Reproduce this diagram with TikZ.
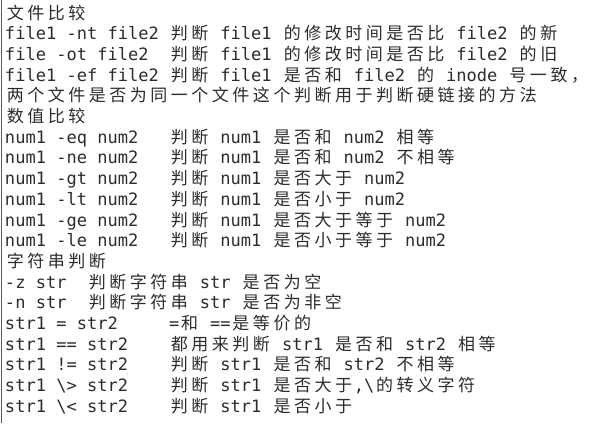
\documentclass[tikz,border=0pt]{standalone}
\usepackage{fontspec}
\newfontfamily\latf{DejaVu Sans Mono}
\newfontfamily\cjkf{Noto Sans CJK SC}
\newlength\cw
\setlength\cw{10.26pt}
\def\cjloop#1{\ifx\relax#1\else\makebox[2\cw]{\cjkf\fontsize{17}{20}\selectfont#1}\expandafter\cjloop\fi}
\newcommand\cj[1]{\cjloop#1\relax}
\newcommand\tabcol[2]{\makebox[#1\cw][l]{#2}}
\definecolor{txt}{HTML}{2C2C2C}
\definecolor{edge}{HTML}{5A5A5A}
\begin{document}
\begin{tikzpicture}[x=1pt,y=1pt,
  row/.style={anchor=base west, inner sep=0pt, outer sep=0pt, text=txt,
    font=\latf\fontsize{17.04}{20.67}\selectfont}]
\useasboundingbox[fill=white] (0,0) rectangle (591,-423);
\coordinate (lt) at (1,0);
\coordinate (lb) at (1,-423);
\draw[edge, line width=1pt] (lt) -- (lb);
\node[row] (r1)  at (5,-19.30)  {\cj{文件比较}};
\node[row] (r2)  at (5,-39.97)  {\tabcol{16}{file1 -nt file2}\cj{判断} file1 \cj{的修改时间是否比} file2 \cj{的新}};
\node[row] (r3)  at (5,-60.64)  {\tabcol{16}{file -ot file2}\cj{判断} file1 \cj{的修改时间是否比} file2 \cj{的旧}};
\node[row] (r4)  at (5,-81.31)  {\tabcol{16}{file1 -ef file2}\cj{判断} file1 \cj{是否和} file2 \cj{的} inode \cj{号一致，}};
\node[row] (r5)  at (5,-101.98) {\cj{两个文件是否为同一个文件这个判断用于判断硬链接的方法}};
\node[row] (r6)  at (5,-122.65) {\cj{数值比较}};
\node[row] (r7)  at (5,-143.32) {\tabcol{16}{num1 -eq num2}\cj{判断} num1 \cj{是否和} num2 \cj{相等}};
\node[row] (r8)  at (5,-163.99) {\tabcol{16}{num1 -ne num2}\cj{判断} num1 \cj{是否和} num2 \cj{不相等}};
\node[row] (r9)  at (5,-184.66) {\tabcol{16}{num1 -gt num2}\cj{判断} num1 \cj{是否大于} num2};
\node[row] (r10) at (5,-205.33) {\tabcol{16}{num1 -lt num2}\cj{判断} num1 \cj{是否小于} num2};
\node[row] (r11) at (5,-226.00) {\tabcol{16}{num1 -ge num2}\cj{判断} num1 \cj{是否大于等于} num2};
\node[row] (r12) at (5,-246.67) {\tabcol{16}{num1 -le num2}\cj{判断} num1 \cj{是否小于等于} num2};
\node[row] (r13) at (5,-267.34) {\cj{字符串判断}};
\node[row] (r14) at (5,-288.01) {\tabcol{8}{-z str}\cj{判断字符串} str \cj{是否为空}};
\node[row] (r15) at (5,-308.68) {\tabcol{8}{-n str}\cj{判断字符串} str \cj{是否为非空}};
\node[row] (r16) at (5,-329.35) {\tabcol{16}{str1 = str2}=\cj{和} ==\cj{是等价的}};
\node[row] (r17) at (5,-350.02) {\tabcol{16}{str1 == str2}\cj{都用来判断} str1 \cj{是否和} str2 \cj{相等}};
\node[row] (r18) at (5,-370.69) {\tabcol{16}{str1 != str2}\cj{判断} str1 \cj{是否和} str2 \cj{不相等}};
\node[row] (r19) at (5,-391.36) {\tabcol{16}{str1 \textbackslash> str2}\cj{判断} str1 \cj{是否大于},\textbackslash\cj{的转义字符}};
\node[row] (r20) at (5,-412.03) {\tabcol{16}{str1 \textbackslash< str2}\cj{判断} str1 \cj{是否小于}};
\end{tikzpicture}
\end{document}
